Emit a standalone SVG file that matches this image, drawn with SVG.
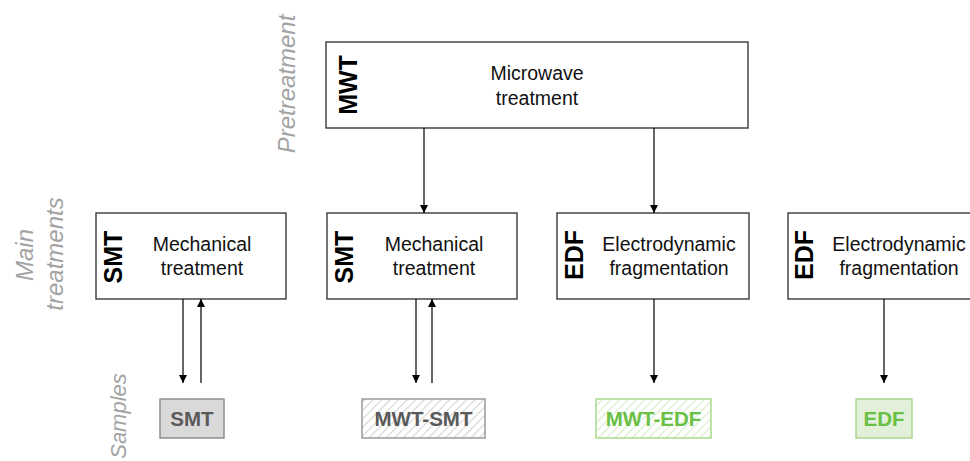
<svg xmlns="http://www.w3.org/2000/svg" width="970" height="461" viewBox="0 0 970 461">
<style>
.box{fill:#fff;stroke:#3a3a3a;stroke-width:1.4}
.t{font-family:"Liberation Sans",Arial,sans-serif;font-size:19.5px;fill:#111;text-anchor:middle}
.ab{font-family:"Liberation Sans",Arial,sans-serif;font-size:25px;font-weight:bold;fill:#000;text-anchor:middle}
.lab{font-family:"Liberation Sans",Arial,sans-serif;font-size:24px;font-style:italic;fill:#a3a3a3;text-anchor:middle}
.st{font-family:"Liberation Sans",Arial,sans-serif;font-size:20.5px;font-weight:bold;text-anchor:middle}
.c{stroke:#000;stroke-width:1.2;fill:none}
</style>
<defs>
<marker id="ah" viewBox="0 0 10 10" refX="10" refY="5" markerWidth="8" markerHeight="8" markerUnits="userSpaceOnUse" orient="auto">
<path d="M0,0 L10,5 L0,10 z" fill="#000"/>
</marker>
<pattern id="hg" patternUnits="userSpaceOnUse" width="6" height="6" patternTransform="rotate(45)">
<rect width="6" height="6" fill="#fff"/>
<line x1="0" y1="0" x2="0" y2="6" stroke="#d4d4d4" stroke-width="2.2"/>
</pattern>
<pattern id="hgr" patternUnits="userSpaceOnUse" width="6" height="6" patternTransform="rotate(45)">
<rect width="6" height="6" fill="#fff"/>
<line x1="0" y1="0" x2="0" y2="6" stroke="#d3ecc5" stroke-width="2.2"/>
</pattern>
</defs>

<g id="labels">
<text class="lab" transform="translate(295,84) rotate(-90)">Pretreatment</text>
<text class="lab" transform="translate(33,255) rotate(-90)">Main</text>
<text class="lab" transform="translate(63,254) rotate(-90)">treatments</text>
<text class="lab" style="font-size:22px" transform="translate(126,416) rotate(-90)">Samples</text>
</g>

<g id="MWT">
<rect class="box" x="326" y="42" width="422" height="86"/>
<text class="ab" transform="translate(357,85) rotate(-90)">MWT</text>
<text class="t" x="537" y="80">Microwave</text>
<text class="t" x="537" y="105">treatment</text>
</g>

<g id="SMT1">
<rect class="box" x="96" y="213" width="190" height="86"/>
<text class="ab" transform="translate(122,257) rotate(-90)">SMT</text>
<text class="t" x="202" y="251">Mechanical</text>
<text class="t" x="202" y="275">treatment</text>
</g>

<g id="SMT2">
<rect class="box" x="327" y="213" width="190" height="86"/>
<text class="ab" transform="translate(353,257) rotate(-90)">SMT</text>
<text class="t" x="434" y="251">Mechanical</text>
<text class="t" x="434" y="275">treatment</text>
</g>

<g id="EDF1">
<rect class="box" x="557" y="213" width="192" height="86"/>
<text class="ab" transform="translate(583,255) rotate(-90)">EDF</text>
<text class="t" x="669" y="251">Electrodynamic</text>
<text class="t" x="669" y="275">fragmentation</text>
</g>

<g id="EDF2">
<rect class="box" x="788" y="213" width="192" height="86"/>
<text class="ab" transform="translate(813,255) rotate(-90)">EDF</text>
<text class="t" x="899" y="251">Electrodynamic</text>
<text class="t" x="899" y="275">fragmentation</text>
</g>

<g id="S_SMT">
<rect x="160" y="399" width="64" height="39" fill="#d9d9d9" stroke="#8f8f8f" stroke-width="1.5"/>
<text class="st" x="192" y="426" fill="#5a5a5a">SMT</text>
</g>
<g id="S_MWT-SMT">
<rect x="362" y="399" width="123" height="39" fill="url(#hg)" stroke="#9a9a9a" stroke-width="1.5"/>
<text class="st" x="423.5" y="426" fill="#5a5a5a">MWT-SMT</text>
</g>
<g id="S_MWT-EDF">
<rect x="596" y="399" width="115" height="39" fill="url(#hgr)" stroke="#a8dc8c" stroke-width="1.5"/>
<text class="st" x="653.5" y="426" fill="#6abf45">MWT-EDF</text>
</g>
<g id="S_EDF">
<rect x="856" y="399" width="56" height="39" fill="#e2efd9" stroke="#a8d88c" stroke-width="1.5"/>
<text class="st" x="884" y="426" fill="#6abf45">EDF</text>
</g>

<g id="connectors">
<line class="c" x1="424" y1="128" x2="424" y2="213" marker-end="url(#ah)"/>
<line class="c" x1="654" y1="128" x2="654" y2="213" marker-end="url(#ah)"/>
<line class="c" x1="183" y1="299" x2="183" y2="383" marker-end="url(#ah)"/>
<line class="c" x1="201" y1="383" x2="201" y2="299" marker-end="url(#ah)"/>
<line class="c" x1="416" y1="299" x2="416" y2="383" marker-end="url(#ah)"/>
<line class="c" x1="432" y1="383" x2="432" y2="299" marker-end="url(#ah)"/>
<line class="c" x1="654" y1="299" x2="654" y2="383" marker-end="url(#ah)"/>
<line class="c" x1="884" y1="299" x2="884" y2="383" marker-end="url(#ah)"/>
</g>
</svg>
